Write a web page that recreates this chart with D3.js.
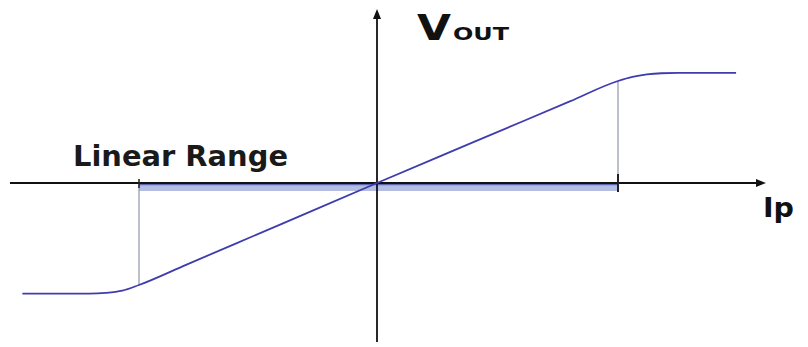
<!DOCTYPE html>
<html><head><meta charset="utf-8">
<script src="https://cdn.jsdelivr.net/npm/d3@7"></script>
<style>html,body{margin:0;padding:0;background:#fff;}svg{display:block;}</style>
</head><body>
<svg id="c" width="808" height="347"></svg>
<script>
// Transfer curve (normalised units: linear range = ±1)
const ipValues   = [-1.49, -1.21, -1.14, -1.07, -1.00, -0.80, -0.40, 0.00, 0.40, 0.80, 1.00, 1.06, 1.12, 1.18, 1.25, 1.49];
const voutValues = [-1.085, -1.085, -1.078, -1.056, -1.00, -0.80, -0.40, 0.00, 0.40, 0.80, 1.00, 1.04, 1.064, 1.076, 1.08, 1.08];
const linearRange = [-1, 1];
const axisLabels = { x: "Ip", yMain: "V", ySub: "OUT", range: "Linear Range" };

const svg = d3.select("#c");
const font = "'DejaVu Sans', Verdana, sans-serif";

const x = d3.scaleLinear().domain([-1, 0, 1]).range([139, 377, 618]);
const y = d3.scaleLinear().domain([-1, 0, 1]).range([285, 183, 81]);
const x0 = x(0), y0 = y(0);

// linear range band
svg.append("rect")
  .attr("x", x(linearRange[0])).attr("y", y0)
  .attr("width", x(linearRange[1]) - x(linearRange[0])).attr("height", 8)
  .attr("fill", "#b4bde2");
svg.append("line")
  .attr("x1", x(linearRange[0])).attr("x2", x(linearRange[1]))
  .attr("y1", y0 + 1.5).attr("y2", y0 + 1.5)
  .attr("stroke", "#5a68b0").attr("stroke-width", 1.5);

// guide lines
svg.append("line").attr("x1", x(linearRange[0])).attr("x2", x(linearRange[0]))
  .attr("y1", y0).attr("y2", y(-1)).attr("stroke", "#8e96a8").attr("stroke-width", 1.2);
svg.append("line").attr("x1", x(linearRange[1])).attr("x2", x(linearRange[1]))
  .attr("y1", y(1)).attr("y2", y0).attr("stroke", "#8e96a8").attr("stroke-width", 1.2);

// axes
svg.append("line").attr("x1", 10).attr("x2", 760).attr("y1", y0).attr("y2", y0)
  .attr("stroke", "#111").attr("stroke-width", 1.8);
svg.append("path").attr("d", `M766,${y0} L756,${y0-4} L756,${y0+4} Z`).attr("fill", "#111");
svg.append("line").attr("x1", x0).attr("x2", x0).attr("y1", 342).attr("y2", 16)
  .attr("stroke", "#111").attr("stroke-width", 1.8);
svg.append("path").attr("d", `M${x0},9 L${x0-4},19 L${x0+4},19 Z`).attr("fill", "#111");

// ticks at range ends
svg.append("line").attr("x1", x(linearRange[0])).attr("x2", x(linearRange[0]))
  .attr("y1", y0 - 4).attr("y2", y0 + 5).attr("stroke", "#222").attr("stroke-width", 1.5);
svg.append("line").attr("x1", x(linearRange[1])).attr("x2", x(linearRange[1]))
  .attr("y1", y0 - 9).attr("y2", y0 + 9).attr("stroke", "#222").attr("stroke-width", 2);

// curve
const pts = ipValues.map((v, i) => [v, voutValues[i]]);
svg.append("path").datum(pts)
  .attr("d", d3.line().x(d => x(d[0])).y(d => y(d[1])).curve(d3.curveMonotoneX))
  .attr("fill", "none").attr("stroke", "#3f3cae").attr("stroke-width", 1.8);

// labels
svg.append("text").attr("x", 73).attr("y", 166).text(axisLabels.range)
  .attr("font-family", font).attr("font-weight", "bold").attr("font-size", 28)
  .attr("fill", "#1a1a1a").attr("textLength", 215).attr("lengthAdjust", "spacingAndGlyphs");
svg.append("text").attr("x", 417).attr("y", 40).text(axisLabels.yMain)
  .attr("font-family", font).attr("font-weight", "bold").attr("font-size", 36).attr("fill", "#111")
  .attr("textLength", 34).attr("lengthAdjust", "spacingAndGlyphs");
svg.append("text").attr("x", 453).attr("y", 40).text(axisLabels.ySub)
  .attr("font-family", font).attr("font-weight", "bold").attr("font-size", 18).attr("fill", "#111")
  .attr("textLength", 56).attr("lengthAdjust", "spacingAndGlyphs");
svg.append("text").attr("x", 763).attr("y", 217).text(axisLabels.x)
  .attr("font-family", font).attr("font-weight", "bold").attr("font-size", 27).attr("fill", "#111")
  .attr("textLength", 31).attr("lengthAdjust", "spacingAndGlyphs");
</script>
</body></html>
